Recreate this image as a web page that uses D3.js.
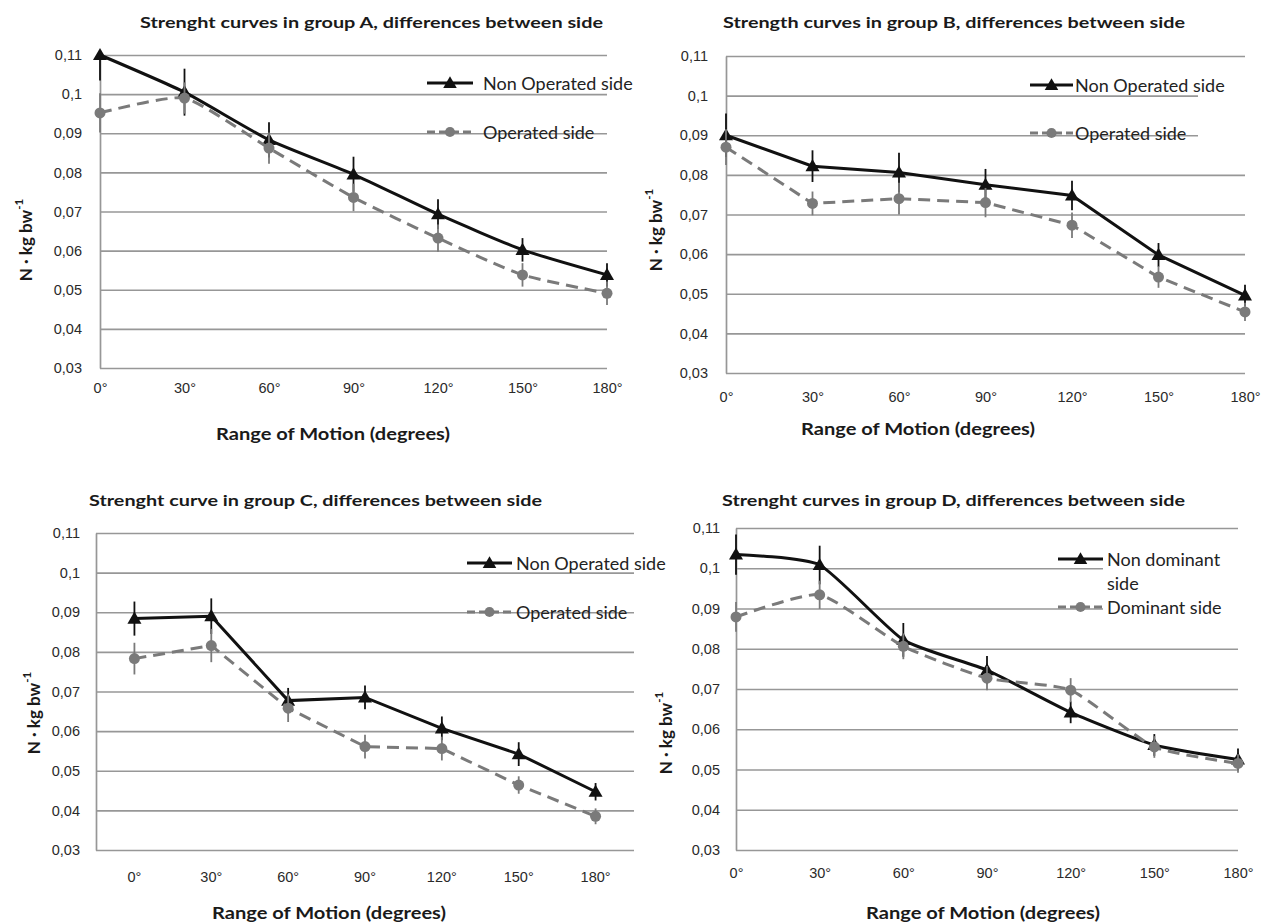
<!DOCTYPE html>
<html>
<head>
<meta charset="utf-8">
<script src="https://cdn.jsdelivr.net/npm/d3@7"></script>
<style>
  body { margin: 0; background: #fff; }
  svg { display: block; font-family: Lato, "Open Sans", sans-serif; }
</style>
</head>
<body>
<svg id="chart" width="1272" height="924"></svg>
<script>
// categories and y ticks shared by the four panels
const categories = ["0°", "30°", "60°", "90°", "120°", "150°", "180°"];
const yTicks = [0.03, 0.04, 0.05, 0.06, 0.07, 0.08, 0.09, 0.10, 0.11];
const yTickLabels = ["0,03", "0,04", "0,05", "0,06", "0,07", "0,08", "0,09", "0,1", "0,11"];

// group A
const aNonOperated = [0.1100, 0.1005, 0.0883, 0.0795, 0.0693, 0.0602, 0.0538];
const aNonOperatedErr = [0.0065, 0.0060, 0.0045, 0.0045, 0.0038, 0.0030, 0.0030];
const aOperated = [0.0952, 0.0990, 0.0862, 0.0736, 0.0632, 0.0538, 0.0491];
const aOperatedErr = [0.0050, 0.0040, 0.0040, 0.0035, 0.0035, 0.0030, 0.0030];

// group B
const bNonOperated = [0.0900, 0.0822, 0.0806, 0.0775, 0.0748, 0.0598, 0.0496];
const bNonOperatedErr = [0.0055, 0.0040, 0.0050, 0.0040, 0.0037, 0.0030, 0.0027];
const bOperated = [0.0870, 0.0728, 0.0740, 0.0730, 0.0673, 0.0542, 0.0454];
const bOperatedErr = [0.0045, 0.0030, 0.0040, 0.0037, 0.0032, 0.0027, 0.0023];

// group C
const cNonOperated = [0.0884, 0.0890, 0.0677, 0.0685, 0.0607, 0.0542, 0.0447];
const cNonOperatedErr = [0.0043, 0.0045, 0.0032, 0.0030, 0.0030, 0.0030, 0.0022];
const cOperated = [0.0783, 0.0816, 0.0658, 0.0561, 0.0556, 0.0464, 0.0385];
const cOperatedErr = [0.0040, 0.0042, 0.0035, 0.0030, 0.0030, 0.0022, 0.0020];

// group D
const dNonDominant = [0.1034, 0.1008, 0.0822, 0.0747, 0.0642, 0.0561, 0.0525];
const dNonDominantErr = [0.0050, 0.0048, 0.0042, 0.0035, 0.0027, 0.0027, 0.0027];
const dDominant = [0.0879, 0.0934, 0.0806, 0.0727, 0.0697, 0.0556, 0.0515];
const dDominantErr = [0.0037, 0.0035, 0.0032, 0.0030, 0.0030, 0.0027, 0.0023];

const panels = [
  { title: "Strenght curves in group A, differences between side", titleX: 140, titleY: 22, titleW: 463,
    left: 100, right: 607, top: 55, bottom: 368, band: false, smooth: true, tickPad: 18, xLabelOff: 20,
    xTitleX: 333, xTitleY: 433, yTitleX: 25, yTitleY: 240,
    legend: { x0: 427, x1: 473, tx: 483, rows: [83, 132] },
    names: [["Non Operated side"], ["Operated side"]],
    s1: aNonOperated, e1: aNonOperatedErr, s2: aOperated, e2: aOperatedErr },
  { title: "Strength curves in group B, differences between side", titleX: 723, titleY: 22, titleW: 462,
    left: 726, right: 1245, top: 56, bottom: 373, band: false, smooth: false, tickPad: 18, xLabelOff: 24,
    xTitleX: 918, xTitleY: 428, yTitleX: 655, yTitleY: 230,
    legend: { x0: 1030, x1: 1073, tx: 1075, rows: [85, 133], box: [1198, 62, 55, 85] },
    names: [["Non Operated side"], ["Operated side"]],
    s1: bNonOperated, e1: bNonOperatedErr, s2: bOperated, e2: bOperatedErr },
  { title: "Strenght curve in group C, differences between side", titleX: 89, titleY: 500, titleW: 453,
    left: 96, right: 634, top: 533, bottom: 850, band: true, smooth: false, tickPad: 16, xLabelOff: 27,
    xTitleX: 329, xTitleY: 912, yTitleX: 33, yTitleY: 713,
    legend: { x0: 467, x1: 512, tx: 516, rows: [563, 612] },
    names: [["Non Operated side"], ["Operated side"]],
    s1: cNonOperated, e1: cNonOperatedErr, s2: cOperated, e2: cOperatedErr },
  { title: "Strenght curves in group D, differences between side", titleX: 722, titleY: 500, titleW: 463,
    left: 736, right: 1238, top: 528, bottom: 850, band: false, smooth: true, tickPad: 16, xLabelOff: 23,
    xTitleX: 983, xTitleY: 912, yTitleX: 665, yTitleY: 733,
    legend: { x0: 1058, x1: 1103, tx: 1107, rows: [559, 607], box: [1103, 545, 145, 72] },
    names: [["Non dominant", "side"], ["Dominant side"]],
    s1: dNonDominant, e1: dNonDominantErr, s2: dDominant, e2: dDominantErr }
];

const svg = d3.select("#chart");
const gridCol = "#979797";
const darkCol = "#111";
const greyCol = "#7a7a7a";

function drawPanel(p) {
  const g = svg.append("g");
  const x = p.band
    ? d3.scaleBand().domain(categories).range([p.left, p.right])
    : d3.scalePoint().domain(categories).range([p.left, p.right]);
  const off = p.band ? x.bandwidth() / 2 : 0;
  const cx = c => x(c) + off;
  const y = d3.scaleLinear().domain([0.03, 0.11]).range([p.bottom, p.top]);

  // y axis with gridlines
  const yAxis = g.append("g").attr("transform", `translate(${p.left},0)`)
    .call(d3.axisLeft(y).tickValues(yTicks).tickFormat((d, i) => yTickLabels[i])
      .tickSize(-(p.right - p.left)).tickSizeOuter(0).tickPadding(p.tickPad));
  yAxis.selectAll("line").attr("stroke", gridCol).attr("stroke-width", 1.7);
  yAxis.select(".domain").attr("stroke", gridCol).attr("stroke-width", 1.7);
  yAxis.selectAll("text").attr("font-size", 14.5).attr("fill", "#2a2a2a");

  // x labels
  const xAxis = g.append("g").attr("transform", `translate(0,${p.bottom})`)
    .call(d3.axisBottom(x).tickSize(0));
  xAxis.select(".domain").remove();
  xAxis.selectAll("text").attr("dy", null).attr("y", p.xLabelOff)
    .attr("dominant-baseline", "central").attr("font-size", 14.5).attr("fill", "#2a2a2a");

  // legend background box (covers gridlines)
  if (p.legend.box) {
    const b = p.legend.box;
    g.append("rect").attr("x", b[0]).attr("y", b[1]).attr("width", b[2]).attr("height", b[3]).attr("fill", "#fff");
  }

  const curve = p.smooth ? d3.curveCardinal.tension(0.45) : d3.curveLinear;
  const series = [
    { vals: p.s1, err: p.e1, col: darkCol, dash: null, marker: "tri" },
    { vals: p.s2, err: p.e2, col: greyCol, dash: "12,7", marker: "circ" }
  ];

  series.forEach(s => {
    const pts = categories.map((c, i) => ({ c, v: s.vals[i], e: s.err[i] }));
    g.append("g").selectAll("line").data(pts).enter().append("line")
      .attr("x1", d => cx(d.c)).attr("x2", d => cx(d.c))
      .attr("y1", d => y(Math.min(0.11, d.v + d.e)))
      .attr("y2", d => y(Math.max(0.03, d.v - d.e)))
      .attr("stroke", s.col).attr("stroke-width", 1.8);
    g.append("path").datum(pts)
      .attr("d", d3.line().x(d => cx(d.c)).y(d => y(d.v)).curve(curve))
      .attr("fill", "none").attr("stroke", s.col).attr("stroke-width", 3)
      .attr("stroke-dasharray", s.dash);
    const sym = s.marker === "tri" ? d3.symbolTriangle : d3.symbolCircle;
    const size = s.marker === "tri" ? 85 : 95;
    g.append("g").selectAll("path").data(pts).enter().append("path")
      .attr("transform", d => `translate(${cx(d.c)},${y(d.v) + (s.marker === "tri" ? 1 : 0)})`)
      .attr("d", d3.symbol().type(sym).size(size))
      .attr("fill", s.col);
  });

  // legend
  series.forEach((s, i) => {
    const ly = p.legend.rows[i];
    g.append("line").attr("x1", p.legend.x0).attr("x2", p.legend.x1).attr("y1", ly).attr("y2", ly)
      .attr("stroke", s.col).attr("stroke-width", 3).attr("stroke-dasharray", s.dash ? "8,4" : null);
    g.append("path")
      .attr("transform", `translate(${(p.legend.x0 + p.legend.x1) / 2},${ly + (s.marker === "tri" ? 1 : 0)})`)
      .attr("d", d3.symbol().type(s.marker === "tri" ? d3.symbolTriangle : d3.symbolCircle).size(80))
      .attr("fill", s.col);
    p.names[i].forEach((t, k) => {
      g.append("text").attr("x", p.legend.tx).attr("y", ly + k * 24)
        .attr("dominant-baseline", "central").attr("font-size", 18).attr("fill", "#222").text(t);
    });
  });

  // titles
  g.append("text").attr("x", p.titleX).attr("y", p.titleY).attr("dominant-baseline", "central")
    .attr("font-size", 15).attr("font-weight", "bold").attr("fill", "#1a1a1a")
    .attr("textLength", p.titleW).attr("lengthAdjust", "spacingAndGlyphs").text(p.title);
  g.append("text").attr("x", p.xTitleX).attr("y", p.xTitleY).attr("dominant-baseline", "central")
    .attr("text-anchor", "middle").attr("font-size", 17.5).attr("font-weight", "bold").attr("fill", "#1a1a1a")
    .attr("textLength", 234).attr("lengthAdjust", "spacingAndGlyphs")
    .text("Range of Motion (degrees)");
  const yt = g.append("text").attr("transform", `translate(${p.yTitleX},${p.yTitleY}) rotate(-90)`)
    .attr("dominant-baseline", "central").attr("text-anchor", "middle")
    .attr("font-size", 17).attr("font-weight", "bold").attr("fill", "#1a1a1a");
  yt.append("tspan").text("N · kg bw");
  yt.append("tspan").attr("font-size", 11.5).attr("dy", -7).text("-1");
}

panels.forEach(drawPanel);
</script>
</body>
</html>
